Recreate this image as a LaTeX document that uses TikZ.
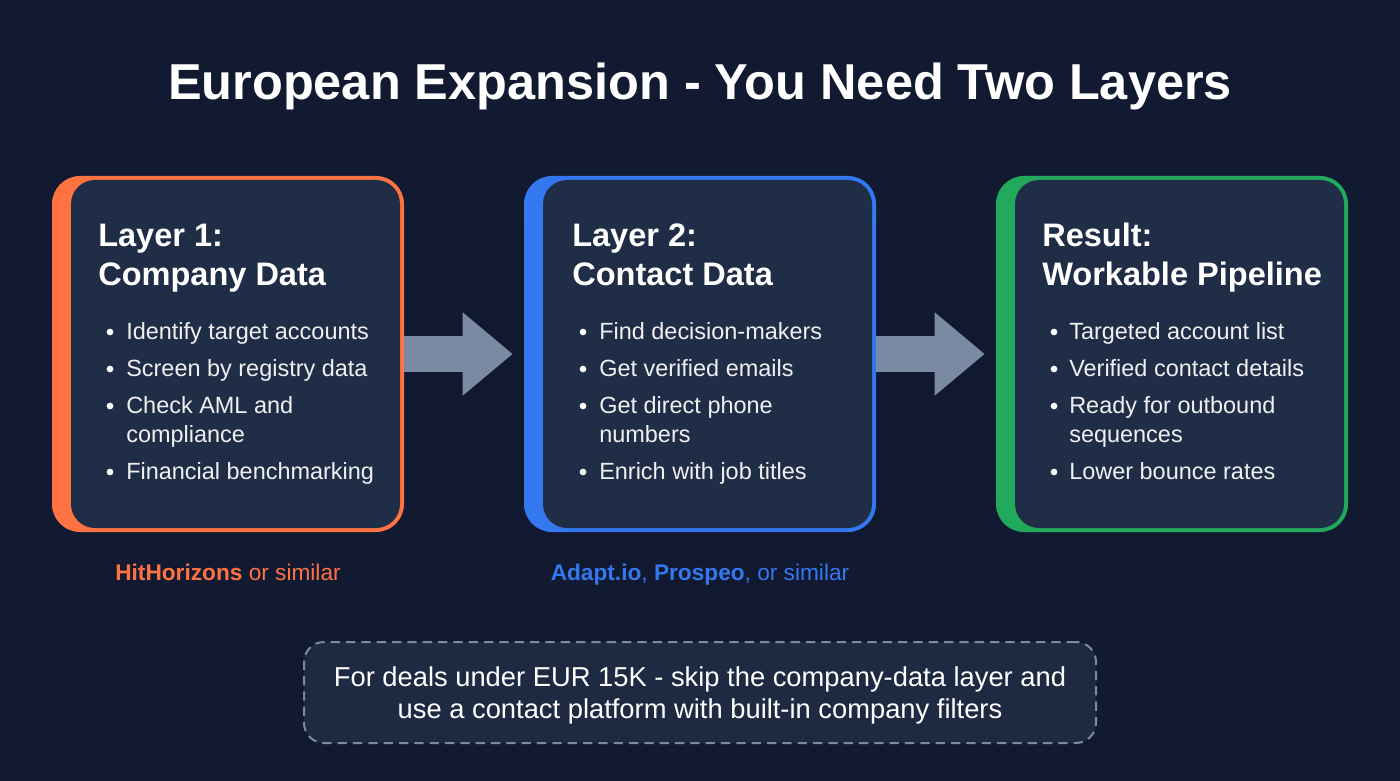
\documentclass[tikz,border=0pt]{standalone}
\usepackage{fontspec}
\setmainfont{Liberation Sans}
\usetikzlibrary{arrows.meta}

\definecolor{pagebg}{RGB}{17,25,47}
\definecolor{pageedge}{RGB}{17,26,49}
\definecolor{cardbg}{RGB}{31,45,71}
\definecolor{notebg}{RGB}{30,42,66}
\definecolor{layerorange}{RGB}{255,114,65}
\definecolor{layerblue}{RGB}{52,120,240}
\definecolor{layergreen}{RGB}{34,170,92}
\definecolor{arrowgray}{RGB}{122,138,163}
\definecolor{dashgray}{RGB}{122,138,163}

\tikzset{
  outercard/.style={rectangle,rounded corners=21pt,minimum width=264pt,minimum height=267pt,inner sep=0pt},
  innercard/.style={rectangle,rounded corners=18pt,fill=cardbg,minimum width=246.75pt,minimum height=261pt,inner sep=0pt},
  headtext/.style={anchor=base west,inner sep=0pt,text=white,align=left,font=\fontsize{24.4}{29}\selectfont\bfseries},
  itemtext/.style={anchor=base west,inner sep=0pt,text=white!94!black,font=\fontsize{17.6}{21.75}\selectfont},
  bulletdot/.style={circle,fill=white,minimum size=5pt,inner sep=0pt},
  flowarrow/.style={draw=arrowgray,line width=27pt,-{Triangle[length=37.5pt,width=60pt,fill=arrowgray]},shorten >=8.25pt},
  sourcetext/.style={anchor=base,inner sep=0pt,font=\fontsize{17}{20}\selectfont},
}

\begin{document}
\begin{tikzpicture}[x=0.75pt,y=0.75pt,yscale=-1,xscale=1]
        % Background
        \path [use as bounding box,inner color=pagebg,outer color=pageedge] (0,0) rectangle (1400,781);

        % Title
        \node (title) at (700,100) [anchor=base,text=white,inner sep=0pt,font=\fontsize{37.85}{46}\selectfont\bfseries] {European Expansion - You Need Two Layers};

        % Cards
        \node (companycard) at (228,354) [outercard,fill=layerorange] {};
        \node (companyinner) at (235.5,354) [innercard] {};
        \node (contactcard) at (700,354) [outercard,fill=layerblue] {};
        \node (contactinner) at (707.5,354) [innercard] {};
        \node (resultcard) at (1172,354) [outercard,fill=layergreen] {};
        \node (resultinner) at (1179.5,354) [innercard] {};

        % Arrows
        \draw [flowarrow] (companycard) ++(176,0) -- (contactcard.west);
        \draw [flowarrow] (contactcard) ++(176,0) -- (resultcard.west);

        % Company card text
        \node (companyhead) at (98,285) [headtext] {Layer 1:\\Company Data};
        \node (companyone) at (126,339) [itemtext] {Identify target accounts};
        \node (companytwo) at (126,376) [itemtext] {Screen by registry data};
        \node (companythree) at (126,413) [itemtext] {Check AML and};
        \node (companythreeb) at (126,442) [itemtext] {compliance};
        \node (companyfour) at (126,479) [itemtext] {Financial benchmarking};
        \node (dota) at (110,332) [bulletdot] {};
        \node (dotb) at (110,369) [bulletdot] {};
        \node (dotc) at (110,406) [bulletdot] {};
        \node (dotd) at (110,472) [bulletdot] {};

        % Contact card text
        \node (contacthead) at (572,285) [headtext] {Layer 2:\\Contact Data};
        \node (contactone) at (599,339) [itemtext] {Find decision-makers};
        \node (contacttwo) at (599,376) [itemtext] {Get verified emails};
        \node (contactthree) at (599,413) [itemtext] {Get direct phone};
        \node (contactthreeb) at (599,442) [itemtext] {numbers};
        \node (contactfour) at (599,479) [itemtext] {Enrich with job titles};
        \node (dote) at (583,332) [bulletdot] {};
        \node (dotf) at (583,369) [bulletdot] {};
        \node (dotg) at (583,406) [bulletdot] {};
        \node (doth) at (583,472) [bulletdot] {};

        % Result card text
        \node (resulthead) at (1042,285) [headtext] {Result:\\Workable Pipeline};
        \node (resultone) at (1069,339) [itemtext] {Targeted account list};
        \node (resulttwo) at (1069,376) [itemtext] {Verified contact details};
        \node (resultthree) at (1069,413) [itemtext] {Ready for outbound};
        \node (resultthreeb) at (1069,442) [itemtext] {sequences};
        \node (resultfour) at (1069,479) [itemtext] {Lower bounce rates};
        \node (doti) at (1054,332) [bulletdot] {};
        \node (dotj) at (1054,369) [bulletdot] {};
        \node (dotk) at (1054,406) [bulletdot] {};
        \node (dotl) at (1054,472) [bulletdot] {};

        % Sources
        \node (companysource) at (228,580) [sourcetext,text=layerorange] {\textbf{HitHorizons} or similar};
        \node (contactsource) at (700,580) [sourcetext,text=layerblue] {\textbf{Adapt.io}, \textbf{Prospeo}, or similar};

        % Note
        \node (notebox) at (700,692.5) [rectangle,rounded corners=15pt,fill=notebg,draw=dashgray,line width=1.5pt,dash pattern=on 7pt off 4.5pt,minimum width=594pt,minimum height=75.75pt,inner sep=0pt] {};
        \node (notetext) at (700,695) [inner sep=0pt,text=white,align=center,font=\fontsize{20.5}{24}\selectfont] {For deals under EUR 15K - skip the company-data layer and\\use a contact platform with built-in company filters};
\end{tikzpicture}
\end{document}
